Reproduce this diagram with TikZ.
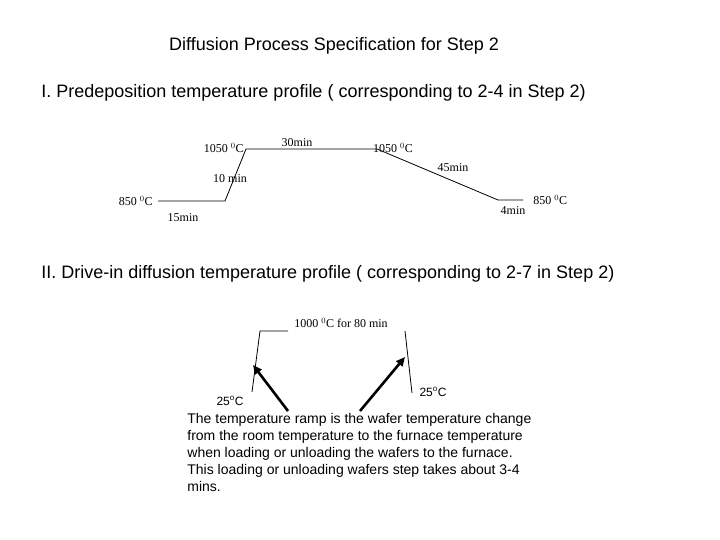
\documentclass[tikz,border=0pt]{standalone}
\usepackage{fontspec}
\setmainfont{Liberation Serif}
\setsansfont{Liberation Sans}
\usetikzlibrary{arrows.meta, positioning}

\begin{document}
\begin{tikzpicture}[x=1pt, y=-1pt, line width=0.8pt, inner sep=0pt,
		heading/.style={font=\sffamily\fontsize{18}{21}\selectfont, anchor=west},
		tlabel/.style={font=\fontsize{12}{14}\selectfont},
		slabel/.style={font=\sffamily\fontsize{12}{14}\selectfont},
		ramp/.style={-{Triangle[length=9pt, width=8pt]}, line width=2.6pt}]
		\useasboundingbox (0,0) rectangle (720,540);
		
		% Headings
		\node[heading, anchor=center] (title) at (334,46) {Diffusion Process Specification for Step 2};
		\node[heading] (headI) at (41,93) {I. Predeposition temperature profile ( corresponding to 2-4 in Step 2)};
		\node[heading] (headII) at (41,274) {II. Drive-in diffusion temperature profile ( corresponding to 2-7 in Step 2)};
		
		% Predeposition profile
		\coordinate (p1) at (158,201);
		\coordinate (p2) at (225,201);
		\coordinate (p3) at (246,149);
		\coordinate (p4) at (377,149);
		\coordinate (p5) at (498,200);
		\coordinate (p6) at (523,200);
		\draw (p1) -- (p2) -- (p3) -- (p4) -- (p5) -- (p6);
		
		% Predeposition labels
		\node[tlabel, left=5pt of p1] (low1) {850 $^0$C};
		\node[tlabel] (t15) at (183,218) {15min};
		\node[tlabel] (t10) at (230,179) {10 min};
		\node[tlabel, left=2pt of p3, yshift=1pt] (high1) {1050 $^0$C};
		\node[tlabel] (t30) at (297,143) {30min};
		\node[tlabel] (high2) at (393,148) {1050 $^0$C};
		\node[tlabel] (t45) at (453,168) {45min};
		\node[tlabel] (t4) at (513,211) {4min};
		\node[tlabel, right=10pt of p6] (low2) {850 $^0$C};
		
		% Drive-in profile
		\coordinate (d1) at (288,331);
		\coordinate (d2) at (260,331);
		\coordinate (d3) at (252,392);
		\coordinate (d4) at (405,331);
		\coordinate (d5) at (412,393);
		\draw (d1) -- (d2) -- (d3);
		\draw (d4) -- (d5);
		
		% Drive-in labels
		\node[tlabel] (soak) at (341,323) {1000 $^0$C for 80 min};
		\node[slabel] (room1) at (230,401) {25\textsuperscript{o}C};
		\node[slabel] (room2) at (433,392) {25\textsuperscript{o}C};
		
		% Note on the ramp
		\node[font=\sffamily\fontsize{14}{17}\selectfont, align=left, anchor=north west] (note) at (187,413) {The temperature ramp is the wafer temperature change\\from the room temperature to the furnace temperature\\when loading or unloading the wafers to the furnace.\\This loading or unloading wafers step takes about 3-4\\mins.};
		
		% Ramp arrows
		\coordinate (tailL) at (288,411);
		\coordinate (tipL) at (253,365);
		\coordinate (tailR) at (360,411);
		\coordinate (tipR) at (405,357);
		\draw[ramp] (tailL) -- (tipL);
		\draw[ramp] (tailR) -- (tipR);
		
	\end{tikzpicture}
\end{document}
